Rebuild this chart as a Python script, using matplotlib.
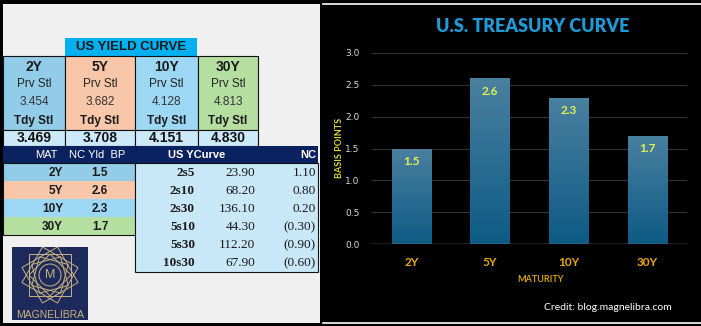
import numpy as np
import matplotlib
matplotlib.use('Agg')
import matplotlib.pyplot as plt
from matplotlib.patches import Rectangle, Polygon, Circle
from matplotlib.colors import LinearSegmentedColormap

# ---------------- data ----------------
maturities = ['2Y', '5Y', '10Y', '30Y']
prv_stl = [3.454, 3.682, 4.128, 4.813]
tdy_stl = [3.469, 3.708, 4.151, 4.830]
nc_bp = [1.5, 2.6, 2.3, 1.7]
spread_names = ['2s5', '2s10', '2s30', '5s10', '5s30', '10s30']
spread_vals = [23.90, 68.20, 136.10, 44.30, 112.20, 67.90]
spread_nc = [1.10, 0.80, 0.20, -0.30, -0.90, -0.60]
y_ticks = [0.0, 0.5, 1.0, 1.5, 2.0, 2.5, 3.0]

mat_colors = ['#92cce8', '#f8c6a8', '#9cd8f4', '#b4dfa0']

SANS = 'Liberation Sans'
SERIF = 'Liberation Serif'
CH = 'Lato'

W, H = 701, 326
fig = plt.figure(figsize=(W / 100, H / 100), dpi=100, facecolor='black')
bg = fig.add_axes([0, 0, 1, 1])
bg.set_xlim(0, W)
bg.set_ylim(H, 0)
bg.axis('off')
bg.set_facecolor('black')

# left panel
bg.add_patch(Rectangle((3, 4), 317, 319, facecolor='#f0f0f0', edgecolor='none'))
# right panel white frame lines
bg.plot([323, W], [4, 4], color='white', lw=1.2)
bg.plot([323, W], [323, 323], color='white', lw=1.2)

# ---------- top table ----------
bg.add_patch(Rectangle((65, 38), 132, 18, facecolor='#00b0f0', edgecolor='none'))
bg.text(131, 47.5, 'US YIELD CURVE', ha='center', va='center', fontsize=9.5,
        fontweight='bold', family=SANS, color='#1a1a1a')
edges = [3, 65, 135, 198, 258]
for i, m in enumerate(maturities):
    x0, x1 = edges[i], edges[i + 1]
    cx = (x0 + x1) / 2
    bg.add_patch(Rectangle((x0, 56), x1 - x0, 74, facecolor=mat_colors[i],
                           edgecolor='#111111', lw=0.8))
    bg.add_patch(Rectangle((x0, 130), x1 - x0, 16, facecolor='#cce9f9',
                           edgecolor='#111111', lw=0.8))
    bg.text(cx, 67, m, ha='center', va='center', fontsize=10, fontweight='bold',
            family=SANS, color='#1a1a1a')
    bg.text(cx, 84, 'Prv Stl', ha='center', va='center', fontsize=8.5,
            family=SANS, color='#222222')
    bg.text(cx, 102, f'{prv_stl[i]:.3f}', ha='center', va='center', fontsize=8.5,
            family=SANS, color='#333333')
    bg.text(cx, 121, 'Tdy Stl', ha='center', va='center', fontsize=8.5,
            fontweight='bold', family=SANS, color='#1a1a1a')
    bg.text(cx, 138, f'{tdy_stl[i]:.3f}', ha='center', va='center', fontsize=10,
            fontweight='bold', family=SANS, color='#111111')

# ---------- navy header bar ----------
bg.add_patch(Rectangle((3, 146), 315, 17, facecolor='#0b2260', edgecolor='none'))
bg.text(58, 154.5, 'MAT', ha='right', va='center', fontsize=8, family=SANS, color='white')
bg.text(97.5, 154.5, 'NC Yld  BP', ha='center', va='center', fontsize=8, family=SANS, color='white')
bg.text(168, 154.5, 'US YCurve', ha='left', va='center', fontsize=8, fontweight='bold',
        family=SANS, color='white')
bg.text(316, 154.5, 'NC', ha='right', va='center', fontsize=8, fontweight='bold',
        family=SANS, color='white')

# ---------- lower-left table ----------
for i, m in enumerate(maturities):
    y0 = 163 + 18 * i
    bg.add_patch(Rectangle((3, y0), 132, 18, facecolor=mat_colors[i], edgecolor='none'))
    bg.text(63, y0 + 9.5, m, ha='right', va='center', fontsize=8.5, fontweight='bold',
            family=SANS, color='#1a1a1a')
    bg.text(100, y0 + 9.5, f'{nc_bp[i]:.1f}', ha='center', va='center', fontsize=8.5,
            fontweight='bold', family=SANS, color='#1a1a1a')
bg.add_patch(Rectangle((3, 163), 132, 72, facecolor='none', edgecolor='#111111', lw=0.8))

# ---------- spreads table ----------
bg.add_patch(Rectangle((135, 163), 183, 109, facecolor='#c8e7f7', edgecolor='#111111', lw=0.8))
for j, nm in enumerate(spread_names):
    yc = 172.5 + 18.1 * j
    bg.text(195, yc, nm, ha='right', va='center', fontsize=9.5, fontweight='bold',
            family=SERIF, color='#1a1a1a')
    bg.text(255, yc, f'{spread_vals[j]:.2f}', ha='right', va='center', fontsize=9.5,
            family=SERIF, color='#1a1a1a')
    v = spread_nc[j]
    s = f'({abs(v):.2f})' if v < 0 else f'{v:.2f}'
    bg.text(316, yc, s, ha='right', va='center', fontsize=9.5, family=SERIF, color='#1a1a1a')

# ---------- logo ----------
bg.add_patch(Rectangle((12, 247), 76, 73, facecolor='#1e2a5c', edgecolor='none'))
gold = '#c9b37c'
cxl, cyl = 50, 275
for ang, R in [(0, 29), (30, 29), (60, 29), (15, 21), (45, 21), (75, 21)]:
    pts = [(cxl + R * np.cos(np.radians(ang + 45 + 90 * k)),
            cyl + R * np.sin(np.radians(ang + 45 + 90 * k))) for k in range(4)]
    bg.add_patch(Polygon(pts, closed=True, facecolor='none', edgecolor=gold, lw=0.7))
bg.add_patch(Circle((cxl, cyl), 11, facecolor='#1e2a5c', edgecolor=gold, lw=0.7))
bg.text(cxl, cyl + 0.5, 'M', ha='center', va='center', fontsize=9, family=SANS, color=gold)
bg.text(50, 314.5, 'MAGNELIBRA', ha='center', va='center', fontsize=7.5, family=SANS, color=gold)

# ---------- chart ----------
ax = fig.add_axes([372 / W, (H - 244) / H, 315 / W, 191 / H])
ax.set_facecolor('black')
x = np.arange(len(maturities))
bars = ax.bar(x, nc_bp, width=0.5, color='#1f6a92', zorder=2)
cmap = LinearSegmentedColormap.from_list('g', ['#0d5b85', '#4a80a0'])
grad = np.linspace(0, 1, 256).reshape(-1, 1)
for b in bars:
    im = ax.imshow(grad, extent=[b.get_x(), b.get_x() + b.get_width(), 0, b.get_height()],
                   origin='lower', cmap=cmap, aspect='auto', zorder=3)
    im.set_clip_path(b)
for xi, v in zip(x, nc_bp):
    ax.annotate(f'{v:.1f}', (xi, v), xytext=(0, -9.5), textcoords='offset points',
                ha='center', va='center', fontsize=8.5, fontweight='bold',
                family=CH, color='#e2f24e', zorder=4)
ax.set_xlim(-0.5, len(maturities) - 0.5)
ax.set_ylim(0, 3.0)
ax.set_yticks(y_ticks)
ax.set_yticklabels([f'{t:.1f}' for t in y_ticks], fontsize=6.5, family='DejaVu Sans',
                   color='#d9d9d9')
ax.set_xticks(x)
ax.set_xticklabels(maturities, fontsize=8.5, fontweight='bold', family=CH, color='#e8a900')
ax.tick_params(axis='both', length=0)
ax.tick_params(axis='y', pad=9)
ax.tick_params(axis='x', pad=9)
for sp in ax.spines.values():
    sp.set_visible(False)
ax.yaxis.grid(True, color='#333333', lw=0.8, zorder=0)
ax.set_axisbelow(True)
ax.axhline(0, color='#8c8c8c', lw=1, zorder=5)

fig.text(533 / W, 1 - 27 / H, 'U.S. TREASURY CURVE', ha='center', va='center',
         fontsize=13, fontweight='heavy', family=CH, color='#1e9bd7')
fig.text(340 / W, 1 - 148 / H, 'BASIS POINTS', ha='center', va='center', rotation=90,
         fontsize=6.5, fontweight='bold', family=CH, color='#d8d83a')
fig.text(541 / W, 1 - 279 / H, 'MATURITY', ha='center', va='center',
         fontsize=6.5, fontweight='bold', family=CH, color='#d4a000')
fig.text(672 / W, 1 - 307 / H, 'Credit: blog.magnelibra.com', ha='right', va='center',
         fontsize=7.5, family=CH, color='white')

fig.savefig('out.png', dpi=100, facecolor='black')
